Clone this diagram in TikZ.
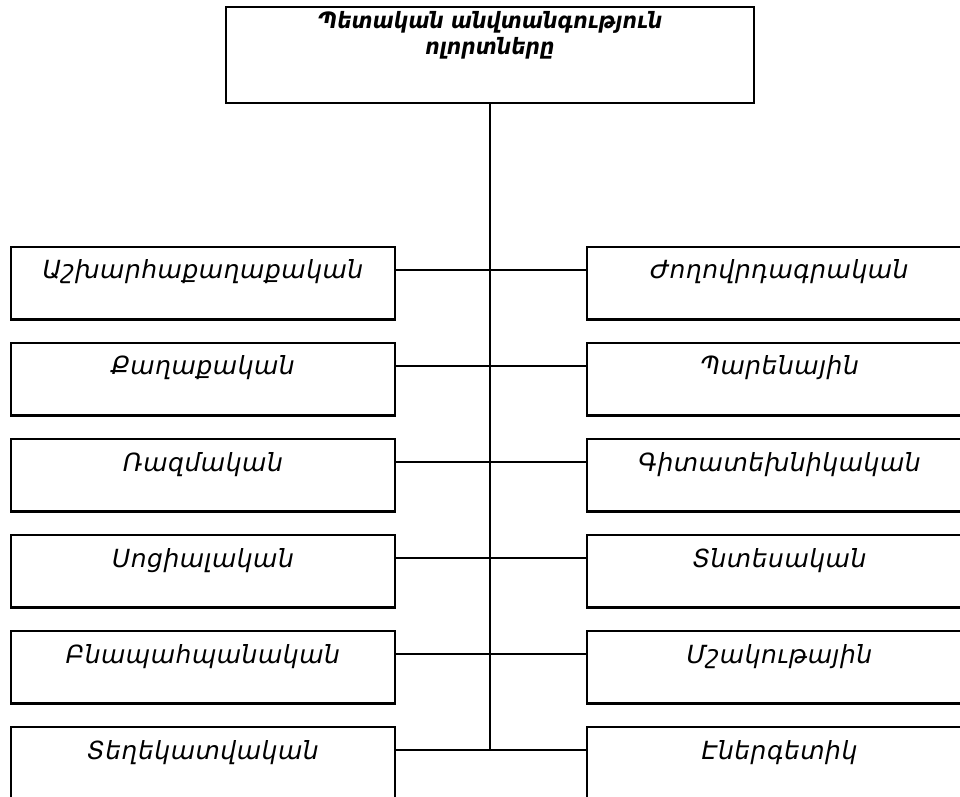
\documentclass[tikz,border=0pt]{standalone}
\usepackage{fontspec}
\setmainfont{DejaVu Sans}
\newfontfamily\armrow{DejaVu Sans}[LetterSpace=2]
\newfontfamily\armtop{DejaVu Sans}[FakeStretch=0.9]
\begin{document}
\begin{tikzpicture}[x=1pt,y=-1pt,
  catbox/.style={draw, line width=2.4pt, minimum width=384.5pt, minimum height=72.5pt,
    inner sep=0pt, anchor=north west, text height=32pt, text depth=40.5pt,
    font=\armrow\itshape\fontsize{25}{30}\selectfont},
  topbox/.style={draw, line width=2.4pt, minimum width=528pt, minimum height=96pt,
    inner sep=0pt, anchor=north},
  toptext/.style={anchor=base, inner sep=0pt,
    font=\armtop\bfseries\itshape\fontsize{22.5}{27}\selectfont},
  conn/.style={line width=1.8pt}]
\useasboundingbox (0,0) rectangle (960,796);
\clip (0,0) rectangle (960,796);
\node[topbox] (T) at (490,5.7) {};
\node[toptext] (T1) at (490,28) {Պետական անվտանգություն};
\node[toptext] (T2) at (490,54) {ոլորտները};
\foreach \i/\lt/\rt in {0/Աշխարհաքաղաքական/Ժողովրդագրական,
  1/Քաղաքական/Պարենային,
  2/Ռազմական/Գիտատեխնիկական,
  3/Սոցիալական/Տնտեսական,
  4/Բնապահպանական/Մշակութային,
  5/Տեղեկատվական/Էներգետիկ}{
  \node[catbox] (L\i) at (9.5,245.7+96.07*\i) {\lt};
  \node[catbox] (R\i) at (586,245.7+96.07*\i) {\rt};
  \coordinate (J\i) at ([yshift=-24pt]L\i.north east);
  \draw[conn] (J\i) -- ([yshift=-24pt]R\i.north west);
}
\draw[conn] (T.south) -- (T.south |- J5);
\end{tikzpicture}
\end{document}
